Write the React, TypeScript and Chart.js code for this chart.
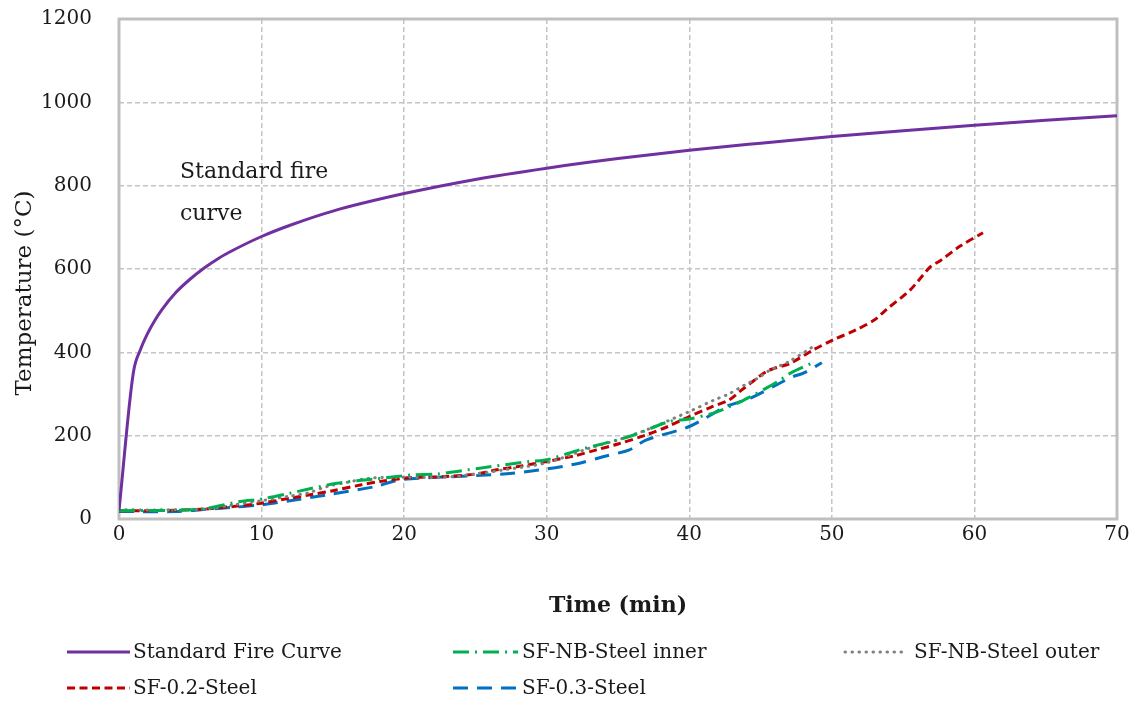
import React, { useEffect, useRef } from "react";
import { Chart, registerables } from "chart.js";

Chart.register(...registerables);

const FONT = "'DejaVu Serif', 'Liberation Serif', serif";

const xTicks = [0, 10, 20, 30, 40, 50, 60, 70];
const yTicks = [0, 200, 400, 600, 800, 1000, 1200];

const stdTime = [0, 1, 1.5, 2, 2.5, 3, 4, 5, 6, 7, 8, 10, 12, 15, 20, 25, 30, 35, 40, 45, 50, 55, 60, 65, 70];
const stdTemp = [20, 350, 406, 445, 476, 502, 544, 576, 603, 626, 645, 678, 705, 739, 781, 815, 842, 865, 885, 902, 918, 932, 945, 957, 968];

const innerTime = [0, 4, 6, 8.5, 10, 12, 15.3, 18, 20.6, 22.3, 25.3, 28.8, 30, 32.3, 35.8, 38.6, 40, 41.7, 42.3, 43.5, 44.3, 45.4, 46.4, 47.1, 48.6];
const innerTemp = [20, 21, 25, 42, 48, 62, 86, 96, 106, 108, 122, 138, 142, 166, 198, 234, 240, 254, 262, 280, 294, 314, 334, 350, 374];

const outerTime = [0, 3, 6, 8, 10, 12, 13.3, 14.6, 16, 17.6, 20, 22.7, 25, 27, 30, 33, 35, 37, 40, 41.7, 42.7, 43.9, 44.8, 45.7, 47, 48.7];
const outerTemp = [22, 22, 24, 34, 44, 55, 63, 78, 88, 98, 100, 100, 108, 118, 135, 170, 190, 214, 258, 285, 299, 322, 338, 358, 378, 414];

const s02Time = [0, 2, 4, 6, 8, 10, 12, 13.4, 15, 17, 18.3, 20, 21, 23, 25, 26.5, 28, 30, 32, 33.5, 35, 37, 38.5, 40, 41.5, 42.8, 43.5, 44.3, 45.4, 46, 47.1, 48.7, 50.1, 51.7, 53, 53.8, 55.5, 56.9, 57.6, 59, 60.6];
const s02Temp = [20, 20, 21, 24, 30, 38, 50, 58, 68, 82, 90, 98, 100, 102, 108, 118, 126, 138, 152, 166, 180, 202, 222, 246, 268, 286, 305, 326, 354, 362, 374, 406, 430, 454, 478, 502, 550, 605, 620, 655, 687];

const s03Time = [0, 4, 6.4, 8, 10, 12, 14.6, 18, 19.7, 22.3, 25, 27.6, 30, 32.3, 34, 35.8, 37, 40, 42.6, 44.3, 46.4, 47.3, 48, 49.3];
const s03Temp = [18, 18, 24, 28, 34, 44, 58, 78, 94, 100, 104, 110, 120, 134, 150, 166, 190, 222, 270, 290, 327, 342, 350, 375];

const toPts = (t: number[], v: number[]) => t.map((x, i) => ({ x, y: v[i] }));

const seriesDefs = [
  { label: "Standard Fire Curve", t: stdTime, v: stdTemp, color: "#7030a0", dash: [] as number[], cap: "butt", mono: true },
  { label: "SF-NB-Steel inner", t: innerTime, v: innerTemp, color: "#00b050", dash: [16, 6, 2, 6], cap: "butt", mono: false },
  { label: "SF-NB-Steel outer", t: outerTime, v: outerTemp, color: "#808080", dash: [0.5, 6.5], cap: "round", mono: false },
  { label: "SF-0.2-Steel", t: s02Time, v: s02Temp, color: "#c00000", dash: [8, 4.5], cap: "butt", mono: false },
  { label: "SF-0.3-Steel", t: s03Time, v: s03Temp, color: "#0070c0", dash: [15, 9], cap: "butt", mono: false },
];

const legendPos = [
  { x1: 67, x2: 130, tx: 133, y: 652 },
  { x1: 453, x2: 518, tx: 522, y: 652 },
  { x1: 845, x2: 907, tx: 914, y: 652 },
  { x1: 67, x2: 130, tx: 133, y: 688 },
  { x1: 453, x2: 518, tx: 522, y: 688 },
];

const decorPlugin = {
  id: "decor",
  beforeDatasetsDraw(chart: any) {
    const { ctx, chartArea: a } = chart;
    ctx.save();
    ctx.strokeStyle = "#bfbfbf";
    ctx.lineWidth = 3;
    ctx.strokeRect(a.left, a.top, a.right - a.left, a.bottom - a.top);
    ctx.restore();
  },
  afterDraw(chart: any) {
    const { ctx, chartArea: a } = chart;
    ctx.save();
    ctx.fillStyle = "#1a1a1a";
    ctx.save();
    ctx.translate(25, 293);
    ctx.rotate(-Math.PI / 2);
    ctx.font = `23px ${FONT}`;
    ctx.textAlign = "center";
    ctx.textBaseline = "middle";
    ctx.fillText("Temperature (°C)", 0, 0);
    ctx.restore();
    ctx.font = `bold 22px ${FONT}`;
    ctx.textAlign = "center";
    ctx.textBaseline = "middle";
    ctx.fillText("Time (min)", (a.left + a.right) / 2, 606);
    ctx.font = `22px ${FONT}`;
    ctx.textAlign = "left";
    ctx.fillText("Standard fire", 180, 172);
    ctx.fillText("curve", 180, 214);
    chart.data.datasets.forEach((ds: any, i: number) => {
      const p = legendPos[i];
      ctx.save();
      ctx.strokeStyle = ds.borderColor;
      ctx.lineWidth = 3;
      ctx.lineCap = ds.borderCapStyle;
      ctx.setLineDash(ds.borderDash);
      ctx.beginPath();
      ctx.moveTo(p.x1, p.y);
      ctx.lineTo(p.x2, p.y);
      ctx.stroke();
      ctx.restore();
      ctx.font = `20px ${FONT}`;
      ctx.fillStyle = "#1a1a1a";
      ctx.textAlign = "left";
      ctx.textBaseline = "middle";
      ctx.fillText(ds.label, p.tx, p.y + 1);
    });
    ctx.restore();
  },
};

export default function App() {
  const ref = useRef<HTMLCanvasElement>(null);
  useEffect(() => {
    document.body.style.margin = "0";
    const chart = new Chart(ref.current as HTMLCanvasElement, {
      type: "line",
      data: {
        datasets: seriesDefs.map((s) => ({
          label: s.label,
          data: toPts(s.t, s.v),
          borderColor: s.color,
          backgroundColor: s.color,
          borderWidth: 3,
          borderDash: s.dash,
          borderCapStyle: s.cap as any,
          pointRadius: 0,
          tension: 0.3,
          cubicInterpolationMode: s.mono ? "monotone" : "default",
          fill: false,
        })),
      },
      options: {
        animation: false,
        responsive: false,
        devicePixelRatio: 1,
        layout: { padding: { top: 19, right: 19, left: 0, bottom: 0 } },
        plugins: { legend: { display: false }, tooltip: { enabled: false } },
        scales: {
          x: {
            type: "linear",
            min: 0,
            max: 70,
            afterFit: (s: any) => { s.height = 183; s.paddingLeft = 0; s.paddingRight = 0; },
            afterBuildTicks: (s: any) => { s.ticks = xTicks.map((v) => ({ value: v })); },
            ticks: { font: { family: FONT, size: 20 }, color: "#1a1a1a", padding: 4, maxRotation: 0, callback: (v: any) => String(v) },
            grid: { color: "#c4c4c4", lineWidth: 1.5, drawTicks: false },
            border: { display: false, dash: [5, 3] },
          },
          y: {
            type: "linear",
            min: 0,
            max: 1200,
            afterFit: (s: any) => { s.width = 119; s.paddingTop = 0; s.paddingBottom = 0; },
            afterBuildTicks: (s: any) => { s.ticks = yTicks.map((v) => ({ value: v })); },
            ticks: { font: { family: FONT, size: 20 }, color: "#1a1a1a", padding: 27, callback: (v: any) => String(v) },
            grid: { color: "#c4c4c4", lineWidth: 1.5, drawTicks: false },
            border: { display: false, dash: [5, 3] },
          },
        },
      },
      plugins: [decorPlugin],
    });
    return () => chart.destroy();
  }, []);
  return (
    <div style={{ position: "fixed", left: 0, top: 0, width: 1136, height: 702, background: "#fff" }}>
      <canvas ref={ref} width={1136} height={702} />
    </div>
  );
}
